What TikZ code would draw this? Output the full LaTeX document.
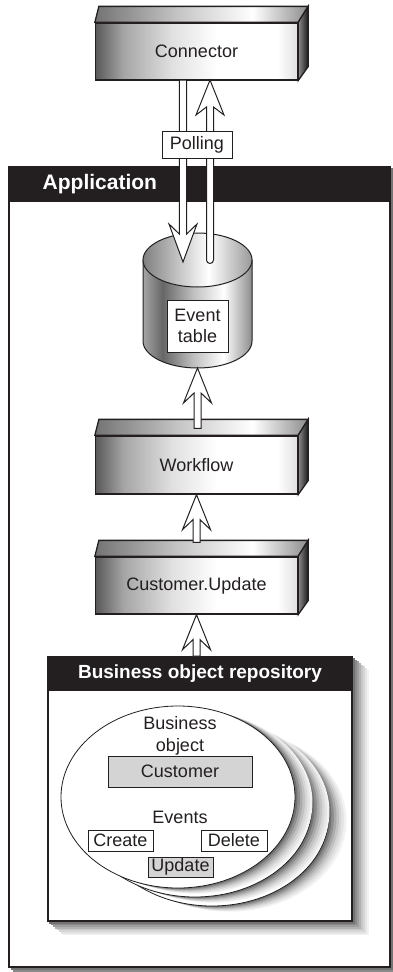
\documentclass[tikz,border=0pt]{standalone}
\usepackage{fontspec}
\setmainfont{Liberation Sans}
\usetikzlibrary{calc}

\definecolor{ink}{RGB}{35,31,32}
\pgfdeclarehorizontalshading{slabfront}{100bp}{color(0bp)=(black!65); color(25bp)=(black!65); color(32bp)=(black!35); color(44bp)=(black!12); color(55bp)=(white); color(70bp)=(white); color(75bp)=(black!12); color(100bp)=(black!12)}
\pgfdeclarehorizontalshading{slabtop}{100bp}{color(0bp)=(black!55); color(25bp)=(black!55); color(45bp)=(black!22); color(62bp)=(white); color(75bp)=(black!45); color(100bp)=(black!45)}
\pgfdeclarehorizontalshading{slabside}{100bp}{color(0bp)=(black!45); color(25bp)=(black!45); color(75bp)=(black!90); color(100bp)=(black!90)}
\pgfdeclarehorizontalshading{cylbody}{100bp}{color(0bp)=(black!35); color(25bp)=(black!35); color(34bp)=(black!60); color(48bp)=(black!25); color(62bp)=(white); color(75bp)=(black!45); color(100bp)=(black!45)}
\pgfdeclarehorizontalshading{cyltop}{100bp}{color(0bp)=(black!50); color(25bp)=(black!50); color(55bp)=(white); color(75bp)=(black!40); color(100bp)=(black!40)}

% top and side faces of a slab node
\newcommand{\slabfaces}[1]{%
  \shade[shading=slabtop, draw=ink, line width=1.3pt] (#1.north west) -- ([shift={(4,-16)}]#1.north west)
    -- ([shift={(10,-16)}]#1.north east) -- (#1.north east) -- cycle;
  \shade[shading=slabside, draw=ink, line width=1.3pt] (#1.north east) -- ([shift={(10,-16)}]#1.north east)
    -- ([shift={(10,-14)}]#1.south east) -- (#1.south east) -- cycle;}

% hollow arrows, tail #2 -> tip #3
\newcommand{\hollowup}[3][0pt]{%
  \draw[hollow] let \p1=(#2), \p2=(#3) in
    (\x2-3.5pt,\y1+#1) -- (\x2-3.5pt,\y2-25pt) -- (\x2-14pt,\y2-35pt) -- (\x2,\y2)
    -- (\x2+14pt,\y2-35pt) -- (\x2+3.5pt,\y2-25pt) -- (\x2+3.5pt,\y1+#1) -- cycle;}
\newcommand{\hollowdown}[2]{%
  \draw[hollow] let \p1=(#1), \p2=(#2) in
    (\x2-3.7pt,\y1) -- (\x2-3.7pt,\y2+28pt) -- (\x2-14pt,\y2+38pt) -- (\x2,\y2)
    -- (\x2+14pt,\y2+38pt) -- (\x2+3.7pt,\y2+28pt) -- (\x2+3.7pt,\y1) -- cycle;}
\newcommand{\softshadow}[2]{%
  \foreach \s/\c in {8/5,7/10,6/16,5/22,4/30,3/38,2/46,1/55}
    \fill[black!\c] ([shift={(#2*\s,0.85*#2*\s)}]#1.north west) rectangle ([shift={(#2*\s,0.85*#2*\s)}]#1.south east);}

\begin{document}
\begin{tikzpicture}[x=1pt, y=-1pt,
  slab/.style={draw=ink, line width=1.3pt, shade, shading=slabfront, minimum width=202pt,
    minimum height=57pt, inner sep=0pt, text=ink, font=\fontsize{18}{22}\selectfont},
  lbl/.style={text=ink, font=\fontsize{18}{22}\selectfont},
  tag/.style={draw=ink, line width=0.8pt, fill=white, inner sep=0pt, text=ink, font=\fontsize{18}{22}\selectfont},
  graytag/.style={tag, fill=black!17},
  frame/.style={draw=ink, line width=1.6pt, fill=white, inner sep=0pt},
  headtext/.style={text=white, font=\bfseries\fontsize{21}{25}\selectfont},
  hollow/.style={draw=ink, line width=1pt, fill=white, line join=miter}]
\useasboundingbox (0,0) rectangle (392,972);

% application frame
\node[frame, minimum width=381pt, minimum height=800pt] (app) at (199.5,567) {};
\softshadow{app}{2.6}
\node[frame, minimum width=381pt, minimum height=800pt] at (app) {};
\fill[ink] (app.north west) rectangle ([shift={(0,36)}]app.north east);
\node[headtext, anchor=west] (applbl) at ([shift={(31,18)}]app.north west) {Application};

% connector
\node[slab] (conn) at (196.5,51.5) {Connector};
\slabfaces{conn}

% event table
\coordinate (evttop) at (197.5,260);
\coordinate (evtbot) at (197.5,368);
\shade[shading=cylbody, draw=ink, line width=1pt] (143,260) -- (143,341)
  arc[start angle=180, end angle=0, x radius=54.5, y radius=27] -- (252,260) -- cycle;
\shade[shading=cyltop, draw=ink, line width=1pt] (evttop) ellipse [x radius=54.5, y radius=27];
\node[tag, align=center, minimum width=61pt, minimum height=52pt, line width=1pt] (evt) at (197.5,326) {Event\\[-1pt]table};

\coordinate (qtail) at (183,80);
\coordinate (qtip) at (183,262);
\coordinate (rtail) at (210,260);
\coordinate (rtip) at (210,80);
\hollowdown{qtail}{qtip}
\draw[hollow] let \p1=(rtail), \p2=(rtip) in
  (\x2+3.5pt,\y1) arc[start angle=0, end angle=-180, radius=3.5pt] -- (\x2-3.5pt,\y2-27pt)
  -- (\x2-14pt,\y2-35pt) -- (\x2,\y2) -- (\x2+14pt,\y2-35pt) -- (\x2+3.5pt,\y2-27pt) -- cycle;
\node[tag, minimum width=70pt, minimum height=27pt] (poll) at (197,144.5) {Polling};

% workflow and customer update
\node[slab, minimum height=58pt] (wf) at (196.5,465) {Workflow};
\slabfaces{wf}
\node[slab] (cu) at (196.5,585.5) {Customer.Update};
\slabfaces{cu}
\hollowup[7pt]{wf.north}{evtbot}
\hollowup[14pt]{cu.north}{wf.south}

% business object repository
\node[frame, minimum width=304pt, minimum height=264pt] (bor) at (200,789) {};
\softshadow{bor}{2}
\node[frame, minimum width=304pt, minimum height=264pt] at (bor) {};
\fill[ink] (bor.north west) rectangle ([shift={(0,35)}]bor.north east);
\node[headtext, font=\bfseries\fontsize{19}{23}\selectfont] (borlbl) at ([shift={(0,17.5)}]bor.north) {Business object repository};
\hollowup{bor.north}{cu.south}

\coordinate (bo) at (178,797);
\foreach \k in {2,1,0} {
  \foreach \s/\c in {7/5,6/10,5/16,4/24,3/33,2/44,1/56}
    \fill[black!\c] ([shift={(17*\k+2.5*\s,9*\k+0.8*\s)}]bo) ellipse [x radius=117, y radius=91];
  \draw[ink, fill=white, line width=0.8pt] ([shift={(17*\k,9*\k)}]bo) ellipse [x radius=117, y radius=91];
}
\node[lbl, align=center] (botitle) at (180,736) {Business\\object};
\node[graytag, minimum width=144pt, minimum height=31pt] (cust) at (180,771.5) {Customer};
\node[lbl] (events) at (180,817) {Events};
\node[tag, minimum width=65pt, minimum height=21pt] (create) at (120.5,840.5) {Create};
\node[tag, minimum width=66pt, minimum height=21pt] (delete) at (234,840.5) {Delete};
\node[graytag, minimum width=65pt, minimum height=20pt] (update) at (180.5,867) {Update};

\end{tikzpicture}
\end{document}
